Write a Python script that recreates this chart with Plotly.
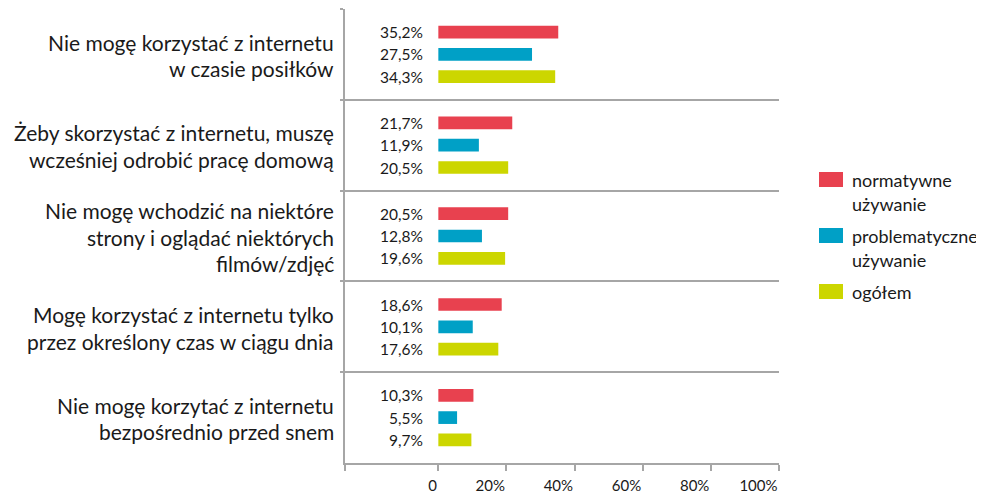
import plotly.graph_objects as go

# ---- data ----
categories = [
    "Nie mogę korzystać z internetu<br>w czasie posiłków",
    "Żeby skorzystać z internetu, muszę<br>wcześniej odrobić pracę domową",
    "Nie mogę wchodzić na niektóre<br>strony i oglądać niektórych<br>filmów/zdjęć",
    "Mogę korzystać z internetu tylko<br>przez określony czas w ciągu dnia",
    "Nie mogę korzytać z internetu<br>bezpośrednio przed snem",
]
series_names = ["normatywne<br>używanie", "problematyczne<br>używanie", "ogółem"]
normatywne = [35.2, 21.7, 20.5, 18.6, 10.3]
problematyczne = [27.5, 11.9, 12.8, 10.1, 5.5]
ogolem = [34.3, 20.5, 19.6, 17.6, 9.7]
x_tick_vals = [0, 20, 40, 60, 80, 100]
x_tick_text = ["0", "20%", "40%", "60%", "80%", "100%"]

series_values = [normatywne, problematyczne, ogolem]
colors = ["#E8414F", "#00A0C6", "#CCD600"]

FONT = "Lato"
TXT = "#1a1a1a"
GRID = "#A6A6A6"

OFF = 8  # page body margin
W, H = 984 - OFF, 495 - OFF
# plot area in page px (reference), converted to figure px
L, R, T, B = 345 - OFF, 779 - OFF, 9 - OFF, 463 - OFF
X_MIN = -27.4

def px2paper_x(px):
    return (px - OFF - L) / (R - L)

def px2paper_y(py):
    return (B - (py - OFF)) / (B - T)

fig = go.Figure()
for name, vals, col in zip(series_names, series_values, colors):
    fig.add_trace(go.Bar(
        y=categories, x=vals, name=name, orientation="h",
        marker=dict(color=col, line=dict(width=0)),
        showlegend=False, hoverinfo="x+name",
    ))

annotations = []
shapes = []

# category labels (one annotation per line for line spacing control)
LINE_SP = 26.5
for cat in categories:
    lines = cat.split("<br>")
    n = len(lines)
    for i, ln in enumerate(lines):
        annotations.append(dict(
            x=0, xref="paper", y=cat, yref="y", text=ln, showarrow=False,
            xanchor="right", yanchor="middle", xshift=-9,
            yshift=((n - 1) / 2 - i) * LINE_SP - 1,
            font=dict(family=FONT, size=21, color=TXT),
        ))

# value labels left of bars
GROUP_SP = 22.3
for j, vals in enumerate(series_values):
    for cat, v in zip(categories, vals):
        annotations.append(dict(
            x=0, xref="x", y=cat, yref="y",
            text=f"{v:.1f}%".replace(".", ","), showarrow=False,
            xanchor="right", yanchor="middle", xshift=-13,
            yshift=(1 - j) * GROUP_SP,
            font=dict(family=FONT, size=15.5, color=TXT),
        ))

# custom legend
leg_sq_top = [172, 228, 284]
for name, col, top in zip(series_names, colors, leg_sq_top):
    shapes.append(dict(
        type="rect", xref="paper", yref="paper",
        x0=px2paper_x(819), x1=px2paper_x(843),
        y0=px2paper_y(top), y1=px2paper_y(top + 15),
        fillcolor=col, line=dict(width=0),
    ))
    for i, ln in enumerate(name.split("<br>")):
        annotations.append(dict(
            x=px2paper_x(850), xref="paper",
            y=px2paper_y(top + 8 + i * 23.5), yref="paper",
            text=ln, showarrow=False, xanchor="left", yanchor="middle",
            font=dict(family=FONT, size=18, color=TXT),
        ))

fig.update_layout(
    width=W, height=H,
    margin=dict(l=L, r=W - R, t=T, b=H - B, pad=0),
    paper_bgcolor="white", plot_bgcolor="white",
    barmode="group", bargap=0.263, bargroupgap=0.43,
    font=dict(family=FONT, color=TXT),
    annotations=annotations, shapes=shapes,
    xaxis=dict(
        range=[X_MIN, 100],
        tickvals=[X_MIN] + x_tick_vals, ticktext=[""] + x_tick_text,
        showgrid=False, zeroline=False,
        showline=True, linecolor=GRID, linewidth=1.5,
        ticks="outside", ticklen=6, tickcolor=GRID, tickwidth=1.5,
        ticklabelposition="outside left", ticklabelstandoff=8,
        tickfont=dict(family=FONT, size=15, color=TXT),
    ),
    yaxis=dict(
        type="category", categoryarray=categories, categoryorder="array",
        autorange="reversed",
        tickson="boundaries", showgrid=True, gridcolor=GRID, gridwidth=1.5,
        showline=True, linecolor=GRID, linewidth=1.5,
        ticks="outside", ticklen=3, tickcolor=GRID, tickwidth=1.5,
        showticklabels=False, zeroline=False,
    ),
)

fig.write_html("out.html")
